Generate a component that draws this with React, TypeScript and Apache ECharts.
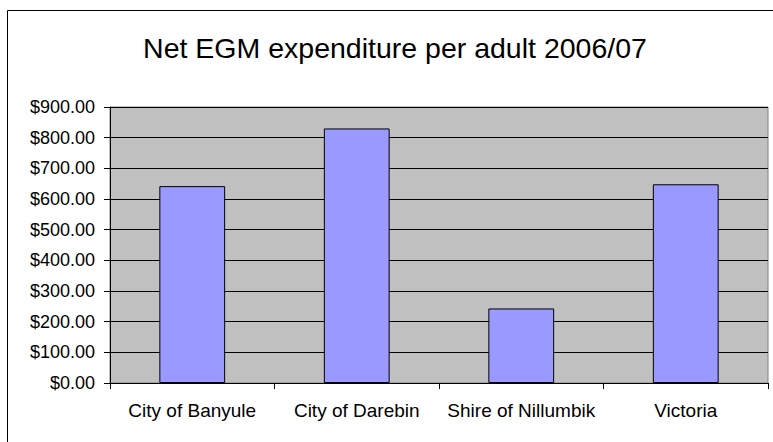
import React, { useEffect, useRef } from "react";
import * as echarts from "echarts";

const titleText = "Net EGM expenditure per adult 2006/07";
const categories = ["City of Banyule", "City of Darebin", "Shire of Nillumbik", "Victoria"];
const values = [642, 830, 243, 648];
const yMin = 0;
const yMax = 900;
const yStep = 100;

export default function App() {
  const ref = useRef<HTMLDivElement>(null);
  useEffect(() => {
    if (!ref.current) return;
    const chart = echarts.init(ref.current, undefined, { renderer: "svg" });
    const font = "'Liberation Sans', Arial, sans-serif";
    chart.setOption({
      animation: false,
      backgroundColor: "#ffffff",
      title: {
        text: titleText,
        left: 390,
        textAlign: "center",
        top: 28,
        textStyle: { fontSize: 28.5, fontWeight: "normal", color: "#000", fontFamily: font },
      },
      graphic: [
        {
          type: "rect",
          shape: { x: 7.5, y: 10.5, width: 780, height: 440 },
          style: { fill: "none", stroke: "#000", lineWidth: 1 },
          silent: true,
          z: 100,
        },
      ],
      grid: {
        left: 110,
        right: 5,
        top: 107,
        bottom: 59,
        show: true,
        backgroundColor: "#C0C0C0",
        borderColor: "#808080",
        borderWidth: 1,
      },
      xAxis: {
        type: "category",
        data: categories,
        boundaryGap: true,
        axisLine: { show: true, lineStyle: { color: "#000", width: 1 } },
        axisTick: { show: true, length: 6, alignWithLabel: false, lineStyle: { color: "#000" } },
        axisLabel: { interval: 0, margin: 18, fontSize: 19, color: "#000", fontFamily: font },
        splitLine: { show: false },
      },
      yAxis: {
        type: "value",
        min: yMin,
        max: yMax,
        interval: yStep,
        axisLine: { show: true, lineStyle: { color: "#000", width: 1 } },
        axisTick: { show: true, length: 6, lineStyle: { color: "#000" } },
        axisLabel: {
          margin: 15,
          fontSize: 18,
          color: "#000",
          fontFamily: font,
          formatter: (v: number) => "$" + v.toFixed(2),
        },
        splitLine: { show: true, lineStyle: { color: "#000", width: 1 } },
      },
      series: [
        {
          type: "bar",
          data: values,
          barWidth: "40%",
          itemStyle: { color: "#9999FF", borderColor: "#000", borderWidth: 1 },
        },
      ],
    });
    return () => chart.dispose();
  }, []);
  return (
    <div
      ref={ref}
      style={{ position: "fixed", left: 0, top: 0, width: 773, height: 442 }}
    />
  );
}
